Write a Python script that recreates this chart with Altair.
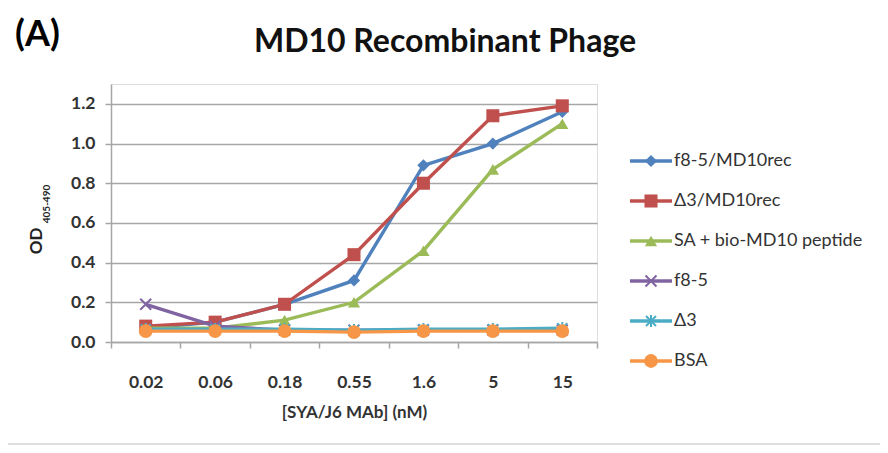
import altair as alt
import pandas as pd

concentrations = ["0.02", "0.06", "0.18", "0.55", "1.6", "5", "15"]
series_names = ["f8-5/MD10rec", "Δ3/MD10rec", "SA + bio-MD10 peptide", "f8-5", "Δ3", "BSA"]
f85_md10rec = [0.07, 0.10, 0.19, 0.31, 0.89, 1.00, 1.16]
d3_md10rec = [0.08, 0.10, 0.19, 0.44, 0.80, 1.14, 1.19]
sa_bio_md10 = [0.07, 0.07, 0.11, 0.20, 0.46, 0.87, 1.10]
f85 = [0.19, 0.08, 0.06, 0.06, 0.06, 0.06, 0.06]
d3 = [0.065, 0.065, 0.065, 0.06, 0.065, 0.065, 0.07]
bsa = [0.055, 0.055, 0.055, 0.05, 0.055, 0.055, 0.055]
series_values = [f85_md10rec, d3_md10rec, sa_bio_md10, f85, d3, bsa]
colors = ["#4F81BD", "#C0504D", "#9BBB59", "#8064A2", "#4BACC6", "#F79646"]
shapes = ["diamond", "square", "triangle-up",
          "M-1,-1L1,1M-1,1L1,-1",
          "M-1,-1L1,1M-1,1L1,-1M0,-1.2L0,1.2",
          "circle"]
filled = [True, True, True, False, False, True]
sizes = [150, 170, 150, 120, 100, 190]

FONT = "Lato"
W, H = 486, 258

xs = alt.X("conc:N", sort=concentrations,
           scale=alt.Scale(paddingInner=0, paddingOuter=0),
           axis=alt.Axis(title="[SYA/J6 MAb] (nM)", labelAngle=0, tickBand="extent",
                         domainColor="#a6a6a6", domainWidth=1.5, tickColor="#a6a6a6",
                         tickWidth=1.5, tickSize=6, labelPadding=25, labelFontSize=17.5,
                         labelFont=FONT, labelFontWeight="bold", labelColor="#333333",
                         titleFont=FONT, titleFontSize=17, titleFontWeight="bold",
                         titleColor="#333333", titlePadding=14, grid=False))
ys = alt.Y("od:Q", scale=alt.Scale(domain=[0, 1.3], nice=False, zero=True),
           axis=alt.Axis(title=None, values=[0, 0.2, 0.4, 0.6, 0.8, 1.0, 1.2], format=".1f",
                         domainColor="#a6a6a6", domainWidth=1.5, tickColor="#a6a6a6",
                         tickWidth=1.5, tickSize=6, labelPadding=10, labelFontSize=17.5,
                         labelFont=FONT, labelFontWeight="bold", labelColor="#333333",
                         grid=True, gridColor="#a6a6a6", gridWidth=1.5))

layers = []
for i, name in enumerate(series_names):
    df = pd.DataFrame({"conc": concentrations, "od": series_values[i], "series": name})
    base = alt.Chart(df)
    layers.append(base.mark_line(color=colors[i], strokeWidth=3.4).encode(x=xs, y=ys))
    if filled[i]:
        pt = base.mark_point(shape=shapes[i], filled=True, color=colors[i], size=sizes[i], opacity=1)
    else:
        pt = base.mark_point(shape=shapes[i], filled=False, color=colors[i], size=sizes[i],
                             strokeWidth=2, opacity=1)
    layers.append(pt.encode(x=xs, y=ys))

# manual legend
leg = pd.DataFrame({"name": series_names, "idx": list(range(len(series_names)))})
leg_base = alt.Chart(leg).transform_calculate(py="77 + 40 * datum.idx")
for i, name in enumerate(series_names):
    b = leg_base.transform_filter(alt.datum.idx == i)
    layers.append(b.mark_rule(color=colors[i], strokeWidth=3.4).encode(
        x=alt.value(W + 33), x2=alt.value(W + 75), y=alt.Y("py:Q", scale=None)))
    if filled[i]:
        pt = b.mark_point(shape=shapes[i], filled=True, color=colors[i], size=sizes[i], opacity=1)
    else:
        pt = b.mark_point(shape=shapes[i], filled=False, color=colors[i], size=sizes[i],
                          strokeWidth=2, opacity=1)
    layers.append(pt.encode(x=alt.value(W + 54), y=alt.Y("py:Q", scale=None)))
layers.append(leg_base.mark_text(align="left", baseline="middle", font=FONT, fontSize=18,
                                 color="#333333").encode(
    x=alt.value(W + 77), y=alt.Y("py:Q", scale=None), text="name:N"))

# texts: title, panel letter, y-axis label with subscript
txt = pd.DataFrame({"t": ["MD10 Recombinant Phage", "(A)", "OD", "405-490"]})
tb = alt.Chart(txt)
layers.append(tb.transform_filter(alt.datum.t == "MD10 Recombinant Phage").mark_text(
    font=FONT, fontSize=32, fontWeight="bold", color="#111111", align="center",
    baseline="middle").encode(x=alt.value(334), y=alt.value(-42), text="t:N"))
layers.append(tb.transform_filter(alt.datum.t == "(A)").mark_text(
    font=FONT, fontSize=36, fontWeight="bold", color="#000000", align="left",
    baseline="middle").encode(x=alt.value(-96), y=alt.value(-49), text="t:N"))
layers.append(tb.transform_filter(alt.datum.t == "OD").mark_text(
    font=FONT, fontSize=17, fontWeight="bold", color="#222222", align="center",
    baseline="middle", angle=270).encode(x=alt.value(-74), y=alt.value(157), text="t:N"))
layers.append(tb.transform_filter(alt.datum.t == "405-490").mark_text(
    font=FONT, fontSize=10, fontWeight="bold", color="#222222", align="center",
    baseline="middle", angle=270).encode(x=alt.value(-64), y=alt.value(120), text="t:N"))

# outer chart-area border (bottom)
layers.append(tb.transform_filter(alt.datum.t == "OD").mark_rule(color="#d4d4d4", strokeWidth=1.5).encode(
    x=alt.value(-103), x2=alt.value(W + 283), y=alt.value(360)))

chart = alt.layer(*layers).properties(
    width=W, height=H,
    autosize=alt.AutoSizeParams(type="none"),
    padding={"left": 103, "top": 76, "right": 283, "bottom": 103},
).configure_view(stroke=None).configure(background="white")

chart.save("out.html", embed_options={"renderer": "svg", "actions": False})
